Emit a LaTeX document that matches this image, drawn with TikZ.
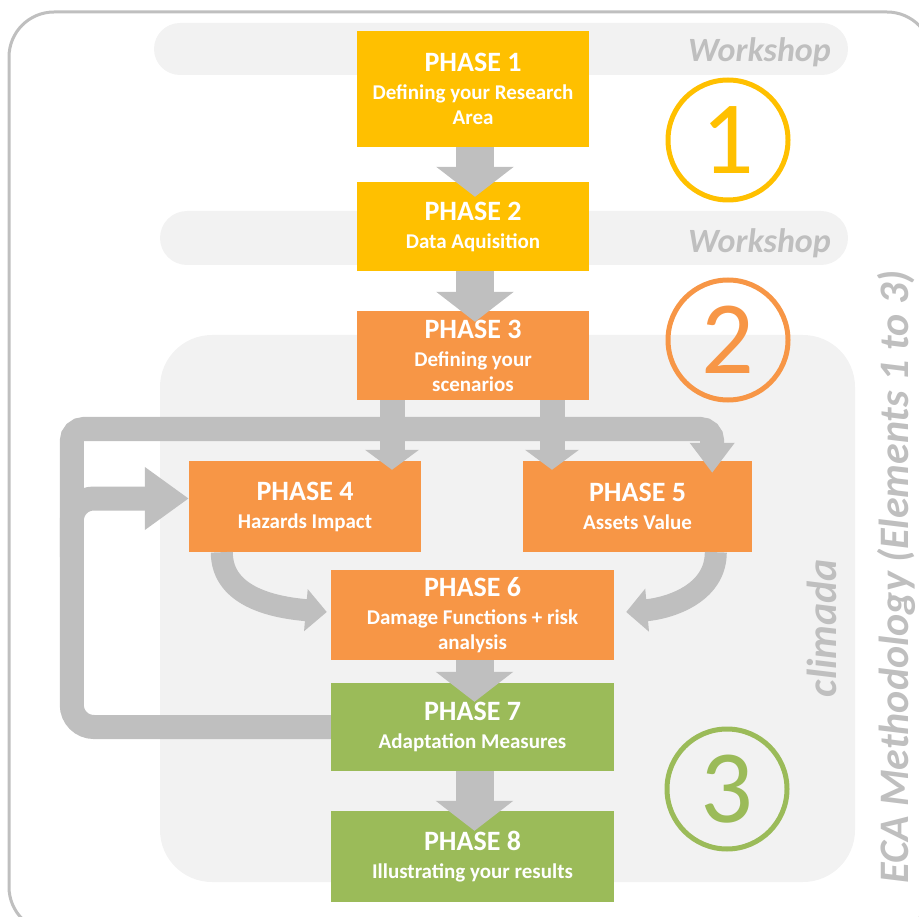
\documentclass[tikz,border=0pt]{standalone}
\usepackage{fontspec}
\setmainfont{Carlito}
\usetikzlibrary{positioning,calc,arrows.meta}
\definecolor{phyellow}{HTML}{FFC000}
\definecolor{phorange}{HTML}{F79646}
\definecolor{phgreen}{HTML}{9BBB59}
\definecolor{flowgray}{HTML}{BFBFBF}
\definecolor{bandgray}{HTML}{F2F2F2}
\newcommand*{\phase}[1]{{\fontsize{28}{30}\selectfont PHASE #1}}

\begin{document}
\begin{tikzpicture}[x=1pt,y=-1pt,
  phase/.style={fill=#1,text=white,inner sep=0pt,align=center,
    font=\fontsize{21}{25}\selectfont\bfseries},
  flow/.style={draw=flowgray,line width=#1},
  blockhead/.style 2 args={-{Triangle[length=#1,width=#2]}},
  stagering/.style={circle,draw=#1,text=#1,line width=5pt,minimum size=120pt,
    inner sep=0pt,font=\fontsize{104}{104}\selectfont},
  side/.style={text=flowgray,inner sep=0pt,
    font=\fontsize{34}{34}\selectfont\bfseries\itshape}]
\useasboundingbox (0,0) rectangle (919,917);
\clip (0,0) rectangle (919,917);
% Outer frame, workshop bands and the climada region
\draw[flowgray,line width=3pt,rounded corners=45pt] (9,12) rectangle (932,932);
\fill[bandgray,rounded corners=26pt] (154,23) rectangle (848,75);
\fill[bandgray,rounded corners=27pt] (160,211) rectangle (848,265);
\fill[bandgray,rounded corners=52pt] (160,335) rectangle (855,882);
% Side labels
\node[side,anchor=base east] (ws1) at (831,62) {Workshop};
\node[side,anchor=base east] (ws2) at (831,253) {Workshop};
\node[side,font=\fontsize{42}{42}\selectfont\bfseries\itshape,rotate=90,anchor=base]
  (climada) at (836,628) {climada};
\node[side,font=\fontsize{42}{42}\selectfont\bfseries\itshape,rotate=90,anchor=base]
  (eca) at (908,577) {ECA Methodology (Elements 1 to 3)};
% Stage numbers
\node[stagering=phyellow] (one) at (728,140) {1};
\node[stagering=phorange] (two) at (728,340) {2};
\node[stagering=phgreen] (three) at (727,789) {3};
% The eight phases
\node[phase=phyellow,minimum width=232pt,minimum height=116pt] (p1) at (473,89)
  {\phase{1}\\[3pt]Defining your Research\\Area};
\node[phase=phyellow,minimum width=232pt,minimum height=89pt] (p2) at (473,226.5)
  {\phase{2}\\[3pt]Data Aquisition};
\node[phase=phorange,minimum width=232pt,minimum height=89pt] (p3) at (473,355.5)
  {\phase{3}\\[3pt]Defining your\\scenarios};
\node[phase=phorange,minimum width=232pt,minimum height=91pt] (p4) at (305,506.5)
  {\phase{4}\\[3pt]Hazards Impact};
\node[phase=phorange,minimum width=229pt,minimum height=91pt] (p5) at (637.5,506.5)
  {\phase{5}\\[3pt]Assets Value};
\node[phase=phorange,minimum width=283pt,minimum height=90pt] (p6) at (472.5,615)
  {\phase{6}\\[3pt]Damage Functions + risk\\analysis};
\node[phase=phgreen,minimum width=283pt,minimum height=88pt] (p7) at (472.5,727)
  {\phase{7}\\[3pt]Adaptation Measures};
\node[phase=phgreen,minimum width=283pt,minimum height=91pt] (p8) at (472.5,856.5)
  {\phase{8}\\[3pt]Illustrating your results};
% Straight arrows down the column
\foreach \a/\b/\d in {p1/p2/15,p2/p3/11,p6/p7/19,p7/p8/20}
  \draw[flow=38pt,blockhead={30pt}{76pt}] ($(\a.south)+(2,0)$) -- ($(\b.north)+(2,\d)$);
% Phase 3 splits into phases 4 and 5
\coordinate (s4) at ($(p3.south)+(-81,0)$);
\coordinate (s5) at ($(p3.south)+(79,0)$);
\draw[flow=25pt,blockhead={20pt}{53pt}] (s4) -- ($(s4 |- p4.north)+(0,9)$);
\draw[flow=25pt,blockhead={20pt}{53pt}] (s5) -- ($(s5 |- p5.north)+(0,9)$);
% Feedback loop from phase 7
\coordinate (looptop) at ($(p7.west)+(-259,-298)$);
\draw[flow=24pt,blockhead={44pt}{60pt},rounded corners=22pt]
  (p7.west) -- ++(-259,0) |- ($(p4.west)+(0,-8)$);
\draw[flow=24pt,blockhead={30pt}{43pt},rounded corners=12pt]
  ($(p7.west)+(-259,-170)$) -- (looptop) -| ($(p5.north east)+(-40,12)$);
% Phases 4 and 5 feed phase 6
\draw[flow=22pt,blockhead={21pt}{41pt}]
  ($(p4.south west)+(33,0)$) to[out=-90,in=175] ($(p6.west)+(-4,-3)$);
\draw[flow=22pt,blockhead={21pt}{42pt}]
  ($(p5.south west)+(193,0)$) to[out=-90,in=5] ($(p6.east)+(12,-3)$);
\end{tikzpicture}
\end{document}
